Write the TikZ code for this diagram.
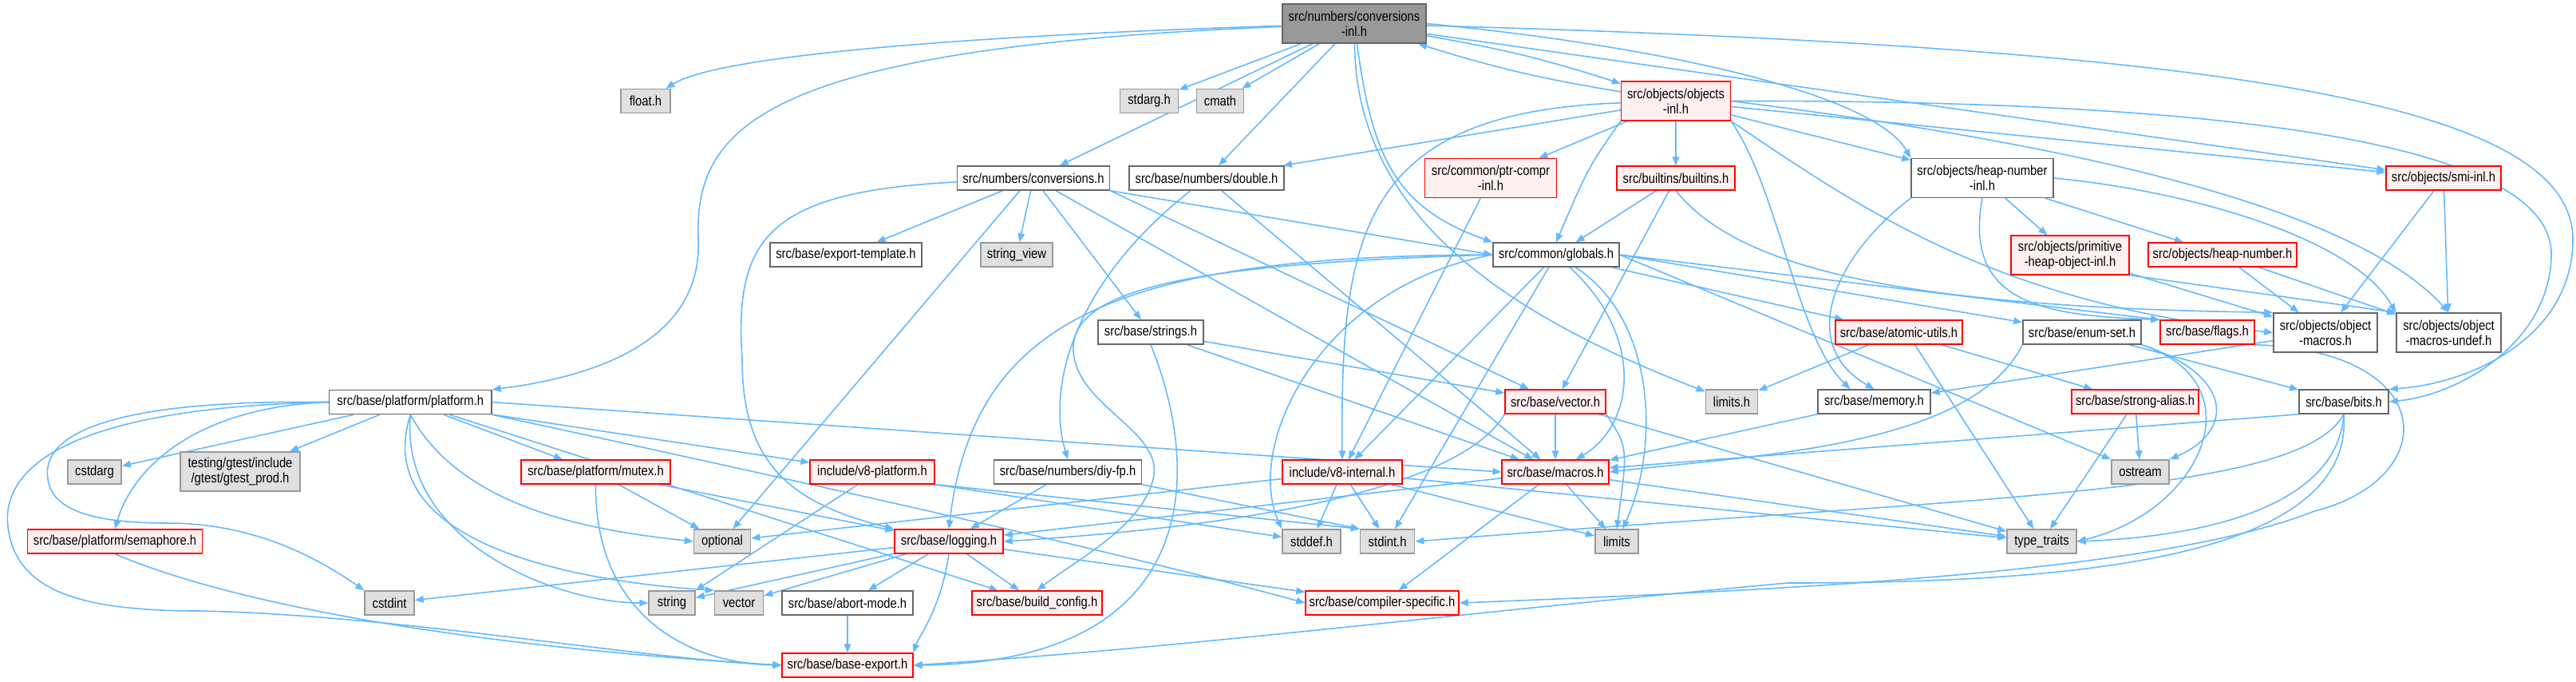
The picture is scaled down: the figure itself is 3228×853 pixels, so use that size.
\documentclass[tikz,border=0pt]{standalone}
\usepackage{fontspec}
\setmainfont[FakeStretch=0.86]{Liberation Sans}
\usepackage{xcolor}
\usepackage{tikz}
\usetikzlibrary{arrows.meta,positioning,backgrounds}

\definecolor{edgeblue}{HTML}{63B8FF}
\definecolor{rootfill}{HTML}{999999}
\definecolor{boxline}{HTML}{666666}
\definecolor{sysfill}{HTML}{E0E0E0}
\definecolor{sysline}{HTML}{999999}
\definecolor{truncfill}{HTML}{FFF0F0}
\definecolor{truncline}{HTML}{FF0000}
\newcommand\graphfont{\fontsize{4.9}{5.4}\selectfont}

\begin{document}
\begin{tikzpicture}[
  x=0.01cm, y=-0.01cm,
  filebox/.style={draw,rectangle,inner sep=0pt,minimum height=0.30cm,align=center,font=\graphfont,line width=0.42pt},
  tall/.style={minimum height=0.49cm},
  plainf/.style={filebox,draw=boxline,fill=white},
  truncf/.style={filebox,draw=truncline,fill=truncfill,line width=0.36pt},
  sysf/.style={filebox,draw=sysline,fill=sysfill},
  rootf/.style={filebox,draw=boxline,fill=rootfill},
  inc/.style={-{Triangle[length=0.11cm,width=0.085cm]},draw=edgeblue,line width=0.45pt},
]
  \useasboundingbox (0,0) rectangle (3228,853);

  % top rows
  \node[rootf,tall,minimum width=1.80cm] (cinl) at (1697,29.5) {src/numbers/conversions\\-inl.h};
  \node[sysf,minimum width=0.62cm] (flt) at (809,126.5) {float.h};
  \node[sysf,minimum width=0.73cm] (sarg) at (1440,126.5) {stdarg.h};
  \node[sysf,minimum width=0.59cm] (cmath) at (1529,126.5) {cmath};
  \node[truncf,tall,minimum width=1.37cm] (objinl) at (2100,126.5) {src/objects/objects\\-inl.h};

  \node[plainf,minimum width=1.91cm] (conv) at (1295,223) {src/numbers/conversions.h};
  \node[plainf,minimum width=1.94cm] (dbl) at (1512,223) {src/base/numbers/double.h};
  \node[truncf,tall,minimum width=1.65cm] (ptrc) at (1868,223) {src/common/ptr-compr\\-inl.h};
  \node[truncf,minimum width=1.48cm] (bltn) at (2100,223) {src/builtins/builtins.h};
  \node[plainf,tall,minimum width=1.78cm] (hninl) at (2484,223) {src/objects/heap-number\\-inl.h};
  \node[truncf,minimum width=1.44cm] (smi) at (3062,223) {src/objects/smi-inl.h};

  \node[plainf,minimum width=1.90cm] (expt) at (1060,319) {src/base/export-template.h};
  \node[sysf,minimum width=0.90cm] (sview) at (1274,319) {string\_view};
  \node[plainf,minimum width=1.58cm] (glob) at (1950,319) {src/common/globals.h};
  \node[truncf,tall,minimum width=1.48cm] (phoinl) at (2594,319.5) {src/objects/primitive\\-heap-object-inl.h};
  \node[truncf,minimum width=1.86cm] (hnum) at (2785,319) {src/objects/heap-number.h};

  \node[plainf,minimum width=1.32cm] (strs) at (1442,416) {src/base/strings.h};
  \node[truncf,minimum width=1.59cm] (atom) at (2379.5,416) {src/base/atomic-utils.h};
  \node[plainf,minimum width=1.48cm] (eset) at (2609,416) {src/base/enum-set.h};
  \node[truncf,minimum width=1.18cm] (flags) at (2766,416) {src/base/flags.h};
  \node[plainf,tall,minimum width=1.30cm] (omac) at (2914,416.5) {src/objects/object\\-macros.h};
  \node[plainf,tall,minimum width=1.31cm] (oundef) at (3068.5,416.5) {src/objects/object\\-macros-undef.h};

  % middle rows
  \node[plainf,minimum width=2.03cm] (plat) at (514.3,503.5) {src/base/platform/platform.h};
  \node[truncf,minimum width=1.26cm] (vec) at (1949,503) {src/base/vector.h};
  \node[sysf,minimum width=0.65cm] (limh) at (2170,503) {limits.h};
  \node[plainf,minimum width=1.41cm] (mem) at (2348.5,503) {src/base/memory.h};
  \node[truncf,minimum width=1.59cm] (salias) at (2675.5,503) {src/base/strong-alias.h};
  \node[plainf,minimum width=1.12cm] (bits) at (2937,503) {src/base/bits.h};

  \node[sysf,minimum width=0.67cm] (carg) at (118.5,591) {cstdarg};
  \node[sysf,tall,minimum width=1.50cm] (gtest) at (301,590.5) {testing/gtest/include\\/gtest/gtest\_prod.h};
  \node[truncf,minimum width=1.87cm] (mutex) at (746.5,591) {src/base/platform/mutex.h};
  \node[truncf,minimum width=1.56cm] (v8plat) at (1093,591) {include/v8-platform.h};
  \node[plainf,minimum width=1.85cm] (diyfp) at (1338,591) {src/base/numbers/diy-fp.h};
  \node[truncf,minimum width=1.50cm] (v8int) at (1682,591) {include/v8-internal.h};
  \node[truncf,minimum width=1.34cm] (macros) at (1949,591) {src/base/macros.h};
  \node[sysf,minimum width=0.72cm] (ostr) at (2682,591) {ostream};

  % bottom rows
  \node[truncf,minimum width=2.19cm] (sema) at (144,678) {src/base/platform/semaphore.h};
  \node[sysf,minimum width=0.71cm] (opt) at (905,678) {optional};
  \node[truncf,minimum width=1.36cm] (logg) at (1189,678) {src/base/logging.h};
  \node[sysf,minimum width=0.73cm] (stddef) at (1643.5,678) {stddef.h};
  \node[sysf,minimum width=0.68cm] (stdint) at (1738.6,678) {stdint.h};
  \node[sysf,minimum width=0.54cm] (lims) at (2026,678) {limits};
  \node[sysf,minimum width=0.87cm] (ttraits) at (2558.5,678) {type\_traits};

  \node[sysf,minimum width=0.62cm] (cint) at (488,755) {cstdint};
  \node[sysf,minimum width=0.58cm] (str) at (842,755) {string};
  \node[sysf,minimum width=0.61cm] (vect) at (926,755) {vector};
  \node[plainf,minimum width=1.64cm] (abrt) at (1062,755) {src/base/abort-mode.h};
  \node[truncf,minimum width=1.63cm] (bcfg) at (1299.5,755) {src/base/build\_config.h};
  \node[truncf,minimum width=1.92cm] (cspec) at (1732,755) {src/base/compiler-specific.h};
  \node[truncf,minimum width=1.64cm] (bexp) at (1062,833) {src/base/base-export.h};

  \begin{pgfonlayer}{background}
    % conversions-inl.h
    \draw[inc] (cinl) .. controls (1200,45) and (900,70) .. (flt);
    \draw[inc] (cinl) .. controls (950,60) and (870,160) .. (875,300) .. controls (880,420) and (760,470) .. (plat.north east);
    \draw[inc] (cinl) -- (sarg);
    \draw[inc] (cinl) -- (cmath);
    \draw[inc] (cinl) -- (conv);
    \draw[inc] (cinl) -- (dbl);
    \draw[inc] (cinl) .. controls (1720,200) and (1750,260) .. (glob.north west);
    \draw[inc] (cinl) .. controls (1700,250) and (1850,380) .. (limh);
    \draw[inc] (cinl) to[bend left=4] (objinl);
    \draw[inc] (cinl.east) .. controls (2100,60) and (2350,120) .. (hninl.north west);
    \draw[inc] (cinl) -- (smi);
    \draw[inc] (cinl) .. controls (2800,60) and (3224,130) .. (3224,300) .. controls (3224,420) and (3100,480) .. (bits.north east);

    % objects-inl.h
    \draw[inc] (objinl) to[bend left=4] (cinl);
    \draw[inc] (objinl) -- (dbl);
    \draw[inc] (objinl) -- (ptrc);
    \draw[inc] (objinl) -- (bltn);
    \draw[inc] (objinl.south west) .. controls (1990,210) .. (glob.north);
    \draw[inc] (objinl) -- (hninl);
    \draw[inc] (objinl) -- (smi);
    \draw[inc] (objinl) .. controls (1700,140) and (1680,300) .. (v8int.north);
    \draw[inc] (objinl.south east) .. controls (2230,240) and (2250,420) .. ([xshift=-0.3cm]mem.north);
    \draw[inc] (objinl.south east) .. controls (2330,260) and (2500,380) .. (omac.west);
    \draw[inc] (objinl.east) .. controls (2600,180) and (2950,260) .. (oundef.north);
    \draw[inc] (objinl.east) .. controls (2800,125) and (3200,180) .. (3197,320) .. controls (3195,430) and (3080,495) .. (bits.east);

    % conversions.h and double.h
    \draw[inc] (conv) -- (expt);
    \draw[inc] (conv) -- (sview);
    \draw[inc] ([xshift=-0.17cm]conv.south) -- (opt);
    \draw[inc] (conv) -- (strs);
    \draw[inc] (conv.south east) -- (glob.west);
    \draw[inc] (conv.south east) -- (vec);
    \draw[inc] (conv) -- (macros);
    \draw[inc] (conv) .. controls (960,240) and (920,300) .. (930,450) .. controls (930,580) and (990,630) .. (logg.north west);
    \draw[inc] (dbl) .. controls (1350,350) and (1310,480) .. (diyfp.north);
    \draw[inc] (dbl) -- (macros);

    % ptr-compr, builtins, heap numbers, smi
    \draw[inc] (ptrc) -- (v8int);
    \draw[inc] (bltn) -- (glob);
    \draw[inc] (bltn) -- (vec);
    \draw[inc] (bltn.south) .. controls (2180,340) and (2400,385) .. (omac.north west);
    \draw[inc] (hninl) -- (phoinl);
    \draw[inc] (hninl) -- (hnum);
    \draw[inc] (hninl.south) .. controls (2460,380) and (2560,395) .. (flags.north west);
    \draw[inc] (hninl.south west) .. controls (2300,320) and (2250,430) .. (mem.north);
    \draw[inc] (hninl.east) .. controls (2750,240) and (2950,300) .. (oundef.north west);
    \draw[inc] (smi) -- (omac);
    \draw[inc] (smi) -- (oundef);
    \draw[inc] (phoinl) -- (omac);
    \draw[inc] (phoinl.south east) -- (oundef.north west);
    \draw[inc] (hnum) -- (omac);
    \draw[inc] (hnum) -- (oundef);

    % globals.h
    \draw[inc] (glob) -- (v8int);
    \draw[inc] (glob) -- (atom);
    \draw[inc] (glob.east) -- (eset);
    \draw[inc] (glob.east) -- (flags.north west);
    \draw[inc] (glob) -- (stdint);
    \draw[inc] (glob.east) -- (ostr.north west);
    \draw[inc] (glob) .. controls (2060,420) and (2050,530) .. (macros);
    \draw[inc] (glob) .. controls (2075,400) and (2080,560) .. (lims);
    \draw[inc] (glob.west) .. controls (1650,360) and (1560,560) .. (stddef.north west);
    \draw[inc] (glob.west) .. controls (1400,320) and (1220,400) .. (logg.north);
    \draw[inc] (glob.west) .. controls (1500,330) and (1340,360) .. (1345,440) .. controls (1350,510) and (1460,540) .. (1445,600) .. controls (1430,660) and (1350,700) .. (bcfg.north);

    % strings, diy-fp, v8 headers
    \draw[inc] (strs) -- (vec);
    \draw[inc] (strs) -- (macros);
    \draw[inc] (strs.south) .. controls (1510,600) and (1500,830) .. (bexp.east);
    \draw[inc] (diyfp) -- (logg);
    \draw[inc] (diyfp.south east) -- (stdint.north west);
    \draw[inc] (v8plat.south east) -- (stddef);
    \draw[inc] (v8plat.south east) -- (stdint.north west);
    \draw[inc] ([xshift=-0.18cm]v8plat.south) -- (str.north east);
    \draw[inc] (v8int) -- (stddef);
    \draw[inc] (v8int) -- (stdint);
    \draw[inc] (v8int) -- (lims);
    \draw[inc] (v8int) -- (opt);
    \draw[inc] (v8int) -- (ttraits);

    % vector.h, macros.h
    \draw[inc] (vec) -- (macros);
    \draw[inc] (vec.south east) .. controls (2040,560) .. (lims.north);
    \draw[inc] (vec) -- (ttraits);
    \draw[inc] (vec.south west) .. controls (1850,580) and (1700,650) .. (logg.east);
    \draw[inc] (macros) -- (lims);
    \draw[inc] (macros) -- (ttraits);
    \draw[inc] (macros) -- (cspec);
    \draw[inc] (macros) -- (logg);

    % memory, atomic-utils, enum-set, strong-alias
    \draw[inc] (mem) -- (macros);
    \draw[inc] (omac) -- (mem);
    \draw[inc] (atom) -- (limh);
    \draw[inc] (atom) -- (salias);
    \draw[inc] ([xshift=0.2cm]atom.south) -- (ttraits);
    \draw[inc] (eset) -- (bits);
    \draw[inc] (eset.south west) .. controls (2470,560) and (2200,570) .. (macros.east);
    \draw[inc] (eset.south east) .. controls (2800,470) and (2800,540) .. (ostr.north east);
    \draw[inc] (eset.south east) .. controls (2830,480) and (2760,640) .. (ttraits.east);
    \draw[inc] (salias) -- (ostr);
    \draw[inc] (salias) -- (ttraits);

    % bits.h, flags.h
    \draw[inc] (bits.south west) -- (macros);
    \draw[inc] (bits.south) .. controls (2880,620) and (2500,620) .. (stdint.east);
    \draw[inc] (bits.south) .. controls (2930,620) and (2800,670) .. (ttraits.east);
    \draw[inc] (bits.south) .. controls (2950,700) and (2600,730) .. (2240,730) .. controls (1800,770) and (1500,810) .. (bexp.east);
    \draw[inc] (flags.south east) .. controls (3060,440) and (3060,600) .. (2900,640) .. controls (2700,720) and (2200,740) .. (cspec.east);

    % platform.h
    \draw[inc] (plat) -- (carg);
    \draw[inc] (plat) -- (gtest);
    \draw[inc] (plat.west) .. controls (240,510) and (165,590) .. (sema.north);
    \draw[inc] (plat.west) .. controls (150,500) and (50,540) .. (60,600) .. controls (65,640) and (120,655) .. (210,655) .. controls (320,655) and (400,700) .. (cint.north west);
    \draw[inc] (plat.west) .. controls (100,510) and (0,580) .. (10,660) .. controls (20,740) and (100,765) .. (250,765) .. controls (500,770) and (800,825) .. (bexp.west);
    \draw[inc] (plat.south) .. controls (500,680) and (700,755) .. (str.west);
    \draw[inc] (plat.south) .. controls (460,690) and (750,730) .. (vect.north west);
    \draw[inc] (plat.south) .. controls (580,640) and (750,665) .. (opt.west);
    \draw[inc] (plat) -- (mutex);
    \draw[inc] (plat) -- (v8plat);
    \draw[inc] (plat.east) -- (macros.west);
    \draw[inc] (plat.south east) .. controls (900,580) and (1400,690) .. (cspec.west);
    \draw[inc] (plat) -- (bcfg);

    % mutex, semaphore, logging, abort-mode
    \draw[inc] (mutex) -- (opt);
    \draw[inc] (mutex) -- (logg);
    \draw[inc] (mutex.south) .. controls (745,760) and (850,830) .. (bexp.west);
    \draw[inc] (sema.south) .. controls (300,760) and (600,810) .. (bexp.west);
    \draw[inc] (logg) -- (cint);
    \draw[inc] (logg) -- (str);
    \draw[inc] (logg) -- (vect);
    \draw[inc] (logg) -- (abrt);
    \draw[inc] (logg) -- (bcfg);
    \draw[inc] (logg) -- (cspec);
    \draw[inc] (logg.south) .. controls (1180,760) and (1150,800) .. (bexp.north east);
    \draw[inc] (abrt) -- (bexp);
  \end{pgfonlayer}
\end{tikzpicture}
\end{document}
